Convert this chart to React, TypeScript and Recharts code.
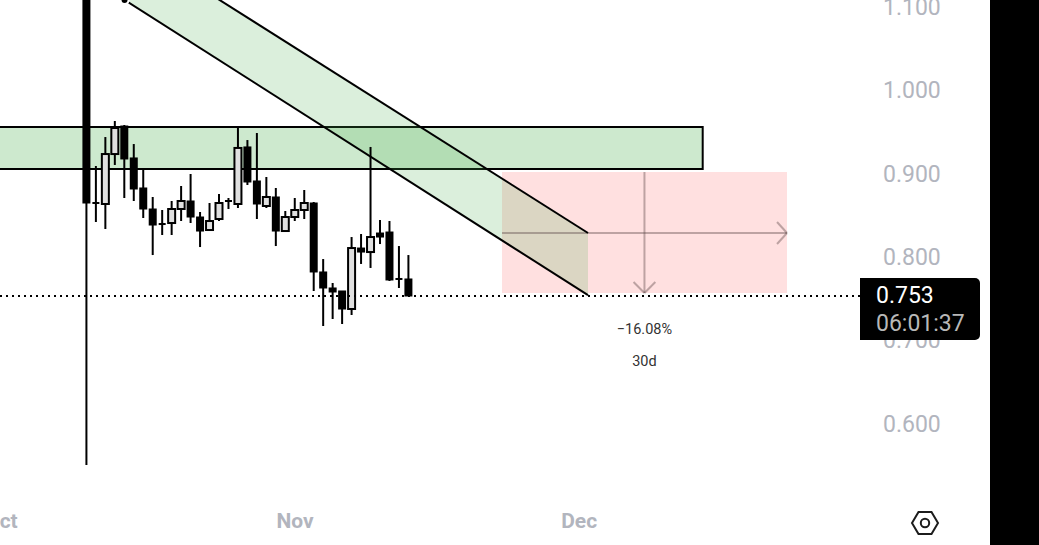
import React from 'react';
import { ComposedChart, Bar, Area, Line, XAxis, YAxis, ReferenceArea, ReferenceLine, ReferenceDot } from 'recharts';

// days relative to 1 Nov
const firstDay = -22;
const opens = [1.2, 0.8645, 0.8633, 0.9232, 0.9568, 0.9185, 0.8825, 0.8573, 0.8393, 0.8405, 0.8573, 0.8669, 0.8477, 0.8321, 0.8453, 0.8669, 0.8633, 0.9317, 0.8909, 0.8609, 0.8717, 0.8309, 0.8477, 0.8561, 0.8645, 0.7818, 0.7626, 0.759, 0.7374, 0.8105, 0.8057, 0.8285, 0.8297, 0.7734, 0.7734];
const highs = [1.25, 0.9089, 0.9436, 0.9628, 0.958, 0.9352, 0.9053, 0.8717, 0.8561, 0.8669, 0.8849, 0.8993, 0.8537, 0.8645, 0.8753, 0.8705, 0.9556, 0.94, 0.9484, 0.8957, 0.8825, 0.8549, 0.8705, 0.8801, 0.8657, 0.7973, 0.7686, 0.759, 0.8237, 0.8273, 0.9317, 0.8441, 0.8429, 0.8129, 0.8021];
const lows = [0.5503, 0.8417, 0.8333, 0.9101, 0.8705, 0.8669, 0.8465, 0.8021, 0.8261, 0.8261, 0.8429, 0.8405, 0.8117, 0.8321, 0.8429, 0.8573, 0.8585, 0.8861, 0.8453, 0.8585, 0.8129, 0.8297, 0.8429, 0.8453, 0.759, 0.717, 0.7254, 0.7194, 0.7302, 0.7914, 0.7866, 0.8153, 0.771, 0.7626, 0.753];
const closes = [0.8645, 0.8645, 0.9232, 0.9544, 0.9173, 0.8813, 0.8573, 0.8381, 0.8381, 0.8573, 0.8669, 0.8477, 0.8309, 0.8429, 0.8645, 0.8669, 0.9305, 0.8897, 0.8633, 0.8717, 0.8309, 0.8477, 0.8561, 0.8645, 0.7818, 0.7626, 0.7578, 0.7374, 0.8105, 0.8057, 0.8237, 0.8237, 0.7722, 0.7734, 0.753];

const priceTicks = [0.6, 0.7, 0.8, 0.9, 1.0, 1.1];
const monthTicks = [-31, 0, 30];
const monthLabels = ['Oct', 'Nov', 'Dec'];

const lastPrice = 0.753;
const lastPriceLabel = '0.753';
const countdownLabel = '06:01:37';

const zoneDays = [-45, 43.05];
const zonePrices = [0.9053, 0.9556];

const channelDays = [-18, 30.94];
const channelLower = [1.108, 0.754];
const channelUpper = [1.18, 0.8285];

const projectionDays = [21.86, 51.95];
const projectionPrices = [0.7566, 0.9017];
const projectionMidDay = 36.9;
const projectionMidPrice = 0.8285;
const projectionLabel = '\u221216.08%';
const durationLabel = '30d';
const labelPrices = [0.7134, 0.675];

const candles = opens.map((open, i) => ({
  day: firstDay + i,
  open,
  high: highs[i],
  low: lows[i],
  close: closes[i],
  range: [lows[i], highs[i]],
}));

const channelData = channelDays.map((day, i) => ({
  day,
  band: [channelLower[i], channelUpper[i]],
  lower: channelLower[i],
  upper: channelUpper[i],
}));

const ARROW = 'rgba(90,70,70,0.4)';
const AXIS_TEXT = '#b2b5be';

const Candle = (props: any) => {
  const { x, y, width, height, payload } = props;
  const pxPerPrice = height / (payload.high - payload.low);
  const top = Math.max(payload.open, payload.close);
  const bottom = Math.min(payload.open, payload.close);
  const bodyY = y + (payload.high - top) * pxPerPrice;
  const bodyH = Math.max((top - bottom) * pxPerPrice, 0);
  const down = payload.close <= payload.open;
  const mid = x + width / 2;
  return (
    <g>
      <line x1={mid} x2={mid} y1={y} y2={y + height} stroke="#000" strokeWidth={2} />
      {bodyH < 2 ? (
        <rect x={x} y={bodyY - 1} width={width} height={2} fill="#000" />
      ) : down ? (
        <rect x={x - 0.5} y={bodyY - 0.5} width={width + 1} height={bodyH + 1} fill="#000" />
      ) : (
        <rect x={x} y={bodyY} width={width} height={bodyH} fill="#e0e0e0" stroke="#000" strokeWidth={2} />
      )}
    </g>
  );
};

export default function App() {
  return (
    <div style={{ position: 'absolute', left: 0, top: 0, width: 1039, height: 545, background: '#fff', overflow: 'hidden', fontFamily: 'Roboto' }}>
      <ComposedChart
        width={990}
        height={545}
        data={candles}
        margin={{ top: 0, right: 0, bottom: 0, left: 0 }}
      >
        <XAxis
          dataKey="day"
          type="number"
          domain={[-31.15, 59.66]}
          allowDataOverflow
          ticks={monthTicks}
          interval={0}
          height={40}
          axisLine={false}
          tickLine={false}
          tickFormatter={(d: number) => monthLabels[monthTicks.indexOf(d)]}
          tick={{ fill: AXIS_TEXT, fontSize: 21, fontWeight: 700, fontFamily: 'Roboto' }}
        />
        <YAxis
          orientation="right"
          type="number"
          domain={[0.5024, 1.1079]}
          allowDataOverflow
          ticks={priceTicks}
          interval={0}
          width={130}
          axisLine={false}
          tickLine={false}
          tickMargin={17}
          tickFormatter={(v: number) => v.toFixed(3)}
          tick={{ fill: AXIS_TEXT, fontSize: 23, fontFamily: 'Roboto' }}
        />

        <ReferenceArea x1={zoneDays[0]} x2={zoneDays[1]} y1={zonePrices[0]} y2={zonePrices[1]} ifOverflow="hidden" fill="rgb(76,175,80)" fillOpacity={0.28} stroke="#000" strokeWidth={2} />
        <ReferenceArea x1={projectionDays[0]} x2={projectionDays[1]} y1={projectionPrices[0]} y2={projectionPrices[1]} ifOverflow="hidden" fill="rgb(255,82,82)" fillOpacity={0.18} stroke="none" />

        <ReferenceLine y={lastPrice} stroke="#000" strokeWidth={2} strokeDasharray="2 4" />

        <ReferenceLine segment={[{ x: projectionDays[0], y: projectionMidPrice }, { x: projectionDays[1], y: projectionMidPrice }]} stroke={ARROW} strokeWidth={2} />
        <ReferenceLine segment={[{ x: projectionDays[1] - 1.05, y: projectionMidPrice + 0.0132 }, { x: projectionDays[1], y: projectionMidPrice }]} stroke={ARROW} strokeWidth={2} />
        <ReferenceLine segment={[{ x: projectionDays[1] - 1.05, y: projectionMidPrice - 0.0132 }, { x: projectionDays[1], y: projectionMidPrice }]} stroke={ARROW} strokeWidth={2} />
        <ReferenceLine segment={[{ x: projectionMidDay, y: projectionPrices[1] }, { x: projectionMidDay, y: projectionPrices[0] }]} stroke={ARROW} strokeWidth={2} />
        <ReferenceLine segment={[{ x: projectionMidDay - 1.15, y: projectionPrices[0] + 0.0132 }, { x: projectionMidDay, y: projectionPrices[0] }]} stroke={ARROW} strokeWidth={2} />
        <ReferenceLine segment={[{ x: projectionMidDay + 1.15, y: projectionPrices[0] + 0.0132 }, { x: projectionMidDay, y: projectionPrices[0] }]} stroke={ARROW} strokeWidth={2} />

        <ReferenceDot x={projectionMidDay} y={labelPrices[0]} r={0} stroke="none" label={{ value: projectionLabel, position: 'center', fill: '#333', fontSize: 14.5, fontFamily: 'Roboto' }} />
        <ReferenceDot x={projectionMidDay} y={labelPrices[1]} r={0} stroke="none" label={{ value: durationLabel, position: 'center', fill: '#333', fontSize: 14.5, fontFamily: 'Roboto' }} />

        <Area data={channelData} dataKey="band" type="linear" stroke="none" fill="rgb(76,175,80)" fillOpacity={0.2} isAnimationActive={false} />
        <Line data={channelData} dataKey="lower" type="linear" stroke="#000" strokeWidth={2} dot={false} isAnimationActive={false} />
        <Line data={channelData} dataKey="upper" type="linear" stroke="#000" strokeWidth={2} dot={false} isAnimationActive={false} />

        <Bar dataKey="range" barSize={7} shape={<Candle />} isAnimationActive={false} />
      </ComposedChart>

      <div style={{ position: 'absolute', left: 990, top: 0, width: 49, height: 545, background: '#000' }} />

      <div style={{ position: 'absolute', left: 860, top: 278, width: 120, height: 62, background: '#000', borderRadius: '0 5px 5px 0' }}>
        <div style={{ position: 'absolute', left: 16, top: 4, fontSize: 23, lineHeight: '28px', color: '#fff' }}>{lastPriceLabel}</div>
        <div style={{ position: 'absolute', left: 16, top: 32, fontSize: 23, lineHeight: '28px', color: '#b8b8b8' }}>{countdownLabel}</div>
      </div>

      <svg style={{ position: 'absolute', left: 909, top: 507 }} width={32} height={32} viewBox="0 0 32 32">
        <path d="M9.5 5 H22.5 L29 16 L22.5 27 H9.5 L3 16 Z" fill="none" stroke="#1c1c1c" strokeWidth={2} />
        <circle cx={16} cy={16} r={4.2} fill="none" stroke="#1c1c1c" strokeWidth={2} />
      </svg>
    </div>
  );
}
